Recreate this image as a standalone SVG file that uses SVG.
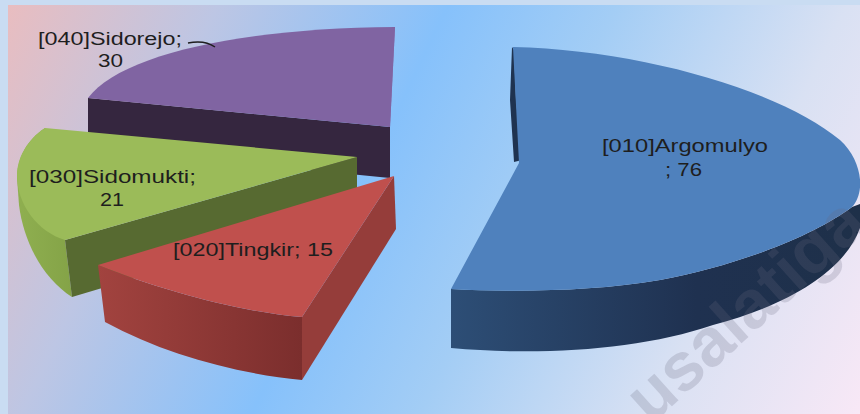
<svg xmlns="http://www.w3.org/2000/svg" width="860" height="414" viewBox="0 0 860 414">
<defs>
<linearGradient id="bg" gradientUnits="userSpaceOnUse" x1="8" y1="5" x2="860" y2="414">
<stop offset="0" stop-color="#e9bdc0"/>
<stop offset="0.2" stop-color="#bdc6e4"/>
<stop offset="0.42" stop-color="#86c1fb"/>
<stop offset="0.58" stop-color="#a3cdf5"/>
<stop offset="0.8" stop-color="#d9e1f3"/>
<stop offset="1" stop-color="#f8e8f6"/>
</linearGradient>
<linearGradient id="blueSide" gradientUnits="userSpaceOnUse" x1="451" y1="0" x2="860" y2="0">
<stop offset="0" stop-color="#2d4e76"/>
<stop offset="0.6" stop-color="#1f3150"/>
<stop offset="1" stop-color="#1e3049"/>
</linearGradient>
<linearGradient id="redSide" gradientUnits="userSpaceOnUse" x1="98" y1="0" x2="302" y2="0">
<stop offset="0" stop-color="#a2433f"/>
<stop offset="1" stop-color="#7b2e2d"/>
</linearGradient>
<linearGradient id="greenSide" gradientUnits="userSpaceOnUse" x1="17" y1="0" x2="72" y2="0">
<stop offset="0" stop-color="#8faf50"/>
<stop offset="1" stop-color="#84a347"/>
</linearGradient>
</defs>
<style>
.lbl{font-family:"Liberation Sans",Arial,sans-serif;font-size:18px;fill:#1e1e1e}
.wm{font-family:"Liberation Sans",Arial,sans-serif;font-weight:bold;font-size:68px;fill:#6b6b80;fill-opacity:0.22}
</style>
<rect x="0" y="0" width="860" height="414" fill="#c9dcf2"/>
<rect x="8" y="5" width="852" height="409" fill="url(#bg)"/>

<g id="slice-040-sidorejo">
<path d="M88,98 L390,127 L390,178 L88,148 Z" fill="#35263f"/>
<path d="M390,127 L395,27 L393,27 L388,127 Z" fill="#8a6fab"/>
<path d="M390,127 L88,98 C120,55 240,28 395,27 Z" fill="#8064a2"/>
</g>

<g id="slice-010-argomulyo">
<path d="M512,47 L510,100 L514,162 L522,160 L516,100 L514,50 Z" fill="#1f3350"/>
<path d="M451,289 C510,292 590,292 660,280 C740,265 815,235 852,207 L860,204 L860,228 C845,270 790,305 713,325 C640,350 540,356 451,348 Z" fill="url(#blueSide)"/>
<path d="M519,163 L513,47 C640,50 780,90 840,140 C862,160 866,192 852,207 C815,235 740,265 660,280 C590,292 510,292 451,289 Z" fill="#4f81bd"/>
</g>

<g id="slice-030-sidomukti">
<path d="M45,128 C27,140 17,158 17,178 L19,205 C24,245 45,280 72,297 L65,240 Z" fill="url(#greenSide)"/>
<path d="M65,240 L357,157 L357,212 L72,297 Z" fill="#576a31"/>
<path d="M357,157 L45,128 C27,140 17,158 17,175 C17,205 38,232 65,240 Z" fill="#9bbb59"/>
</g>

<g id="slice-020-tingkir">
<path d="M394,176 L302,317 L302,380 L396,229 Z" fill="#953d3a"/>
<path d="M98,265 C160,290 240,312 302,317 L302,380 C240,374 165,355 105,322 Z" fill="url(#redSide)"/>
<path d="M394,176 L98,265 C160,290 240,312 302,317 Z" fill="#c0504d"/>
</g>

<g id="connectors">
<path d="M188,43 C198,41 208,42 215,47" fill="none" stroke="#1e1e1e" stroke-width="1.5"/>
</g>

<g id="labels">
<text class="lbl" x="38" y="45" textLength="144" lengthAdjust="spacingAndGlyphs">[040]Sidorejo;</text>
<text class="lbl" x="98" y="67" textLength="25" lengthAdjust="spacingAndGlyphs">30</text>
<text class="lbl" x="29" y="183" textLength="167" lengthAdjust="spacingAndGlyphs">[030]Sidomukti;</text>
<text class="lbl" x="100" y="206" textLength="24" lengthAdjust="spacingAndGlyphs">21</text>
<text class="lbl" x="173" y="256" textLength="160" lengthAdjust="spacingAndGlyphs">[020]Tingkir; 15</text>
<text class="lbl" x="602" y="152" textLength="166" lengthAdjust="spacingAndGlyphs">[010]Argomulyo</text>
<text class="lbl" x="665" y="176" textLength="37" lengthAdjust="spacingAndGlyphs">; 76</text>
</g>

<text class="wm" transform="translate(651,425) rotate(-42)">usalatiga</text>
</svg>
